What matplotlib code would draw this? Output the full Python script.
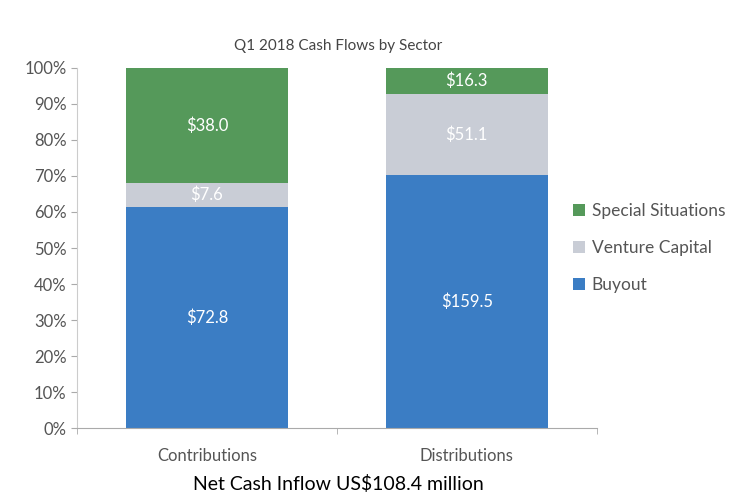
import matplotlib.pyplot as plt
import numpy as np

plt.rcParams['font.family'] = ['Lato', 'DejaVu Sans']

categories = ['Contributions', 'Distributions']
buyout = [72.8, 159.5]
venture = [7.6, 51.1]
special = [38.0, 16.3]

series = [('Buyout', buyout, '#3b7dc4'),
          ('Venture Capital', venture, '#c9cdd6'),
          ('Special Situations', special, '#55995a')]

totals = np.array(buyout) + np.array(venture) + np.array(special)

fig = plt.figure(figsize=(7.46, 4.99), dpi=100)
ax = fig.add_axes([0.103, 0.142, 0.697, 0.722])

x = np.arange(len(categories))
bottom = np.zeros(len(categories))
handles = []
for name, vals, color in series:
    share = np.array(vals) / totals * 100
    b = ax.bar(x, share, 0.625, bottom=bottom, color=color, label=name)
    handles.append(b)
    for xi, s, bt, v in zip(x, share, bottom, vals):
        ax.text(xi, bt + s / 2, f'${v:.1f}', ha='center', va='center',
                color='white', fontsize=12)
    bottom += share

ax.set_xlim(-0.5, 1.5)
ax.set_ylim(0, 100)
ax.set_yticks(range(0, 101, 10))
ax.set_yticklabels([f'{v}%' for v in range(0, 101, 10)])
ax.set_xticks(x)
ax.set_xticklabels(categories)
ax.set_xticks([-0.5, 0.5, 1.5], minor=True)
ax.tick_params(axis='x', which='major', length=0, pad=14, labelsize=12, labelcolor='#555555')
ax.tick_params(axis='x', which='minor', length=4, color='#aaaaaa', direction='out')
ax.tick_params(axis='y', length=4, color='#aaaaaa', labelsize=12, labelcolor='#555555')
for side in ['top', 'right']:
    ax.spines[side].set_visible(False)
ax.spines['left'].set_color('#cccccc')
ax.spines['bottom'].set_color('#aaaaaa')

ax.legend(handles[::-1], [h.get_label() for h in handles[::-1]],
          loc='center left', bbox_to_anchor=(0.925, 0.5), frameon=False,
          fontsize=12.5, labelcolor='#555555', handlelength=0.65, handleheight=0.65,
          labelspacing=1.2, handletextpad=0.4)

fig.text(0.453, 0.908, 'Q1 2018 Cash Flows by Sector', ha='center', va='center',
         fontsize=11, color='#444444')
fig.text(0.453, 0.03, 'Net Cash Inflow US$108.4 million', ha='center', va='center',
         fontsize=14, color='black')

fig.savefig('out.png', dpi=100)
